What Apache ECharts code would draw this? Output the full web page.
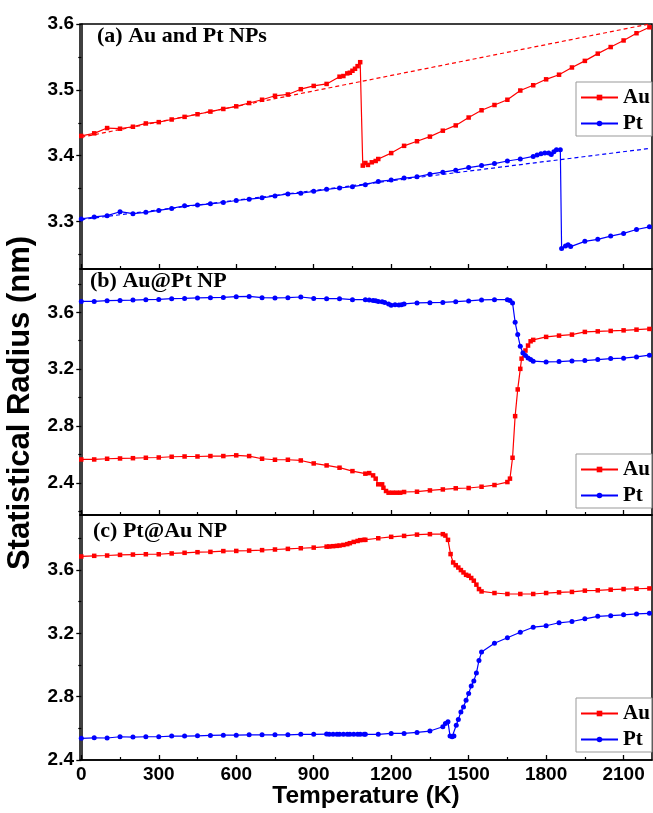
<!DOCTYPE html>
<html>
<head>
<meta charset="utf-8">
<script src="https://cdn.jsdelivr.net/npm/echarts@6.0.0/dist/echarts.min.js"></script>
<style>
html,body{margin:0;padding:0;background:#fff;}
#main{width:653px;height:813px;}
</style>
</head>
<body>
<div id="main"></div>
<script>
// tick values
var xMajor = [0, 300, 600, 900, 1200, 1500, 1800, 2100];
var xMinor = [150, 450, 750, 1050, 1350, 1650, 1950];
var yMajorA = [3.3, 3.4, 3.5, 3.6];
var yMinorA = [3.25, 3.35, 3.45, 3.55];
var yMajorBC = [2.4, 2.8, 3.2, 3.6];
var yMinorB = [2.2, 2.6, 3.0, 3.4, 3.8];
var yMinorC = [2.6, 3.0, 3.4, 3.8];

// (a) Au and Pt NPs
var aAuT = [0,50,100,150,200,250,300,350,400,450,500,550,600,650,700,750,800,850,900,950,
  1000,1015,1030,1040,1050,1060,1070,1080,
  1090,1100,1110,1125,1140,1150,
  1200,1250,1300,1350,1400,1450,1500,1550,1600,1650,1700,1750,1800,1850,1900,1950,2000,2050,2100,2150,2200];
var aAuR = [3.430,3.434,3.442,3.441,3.444,3.449,3.451,3.455,3.459,3.463,3.467,3.471,3.475,3.480,3.485,3.491,3.493,3.501,3.506,3.509,
  3.520,3.521,3.525,3.526,3.529,3.532,3.536,3.542,
  3.385,3.389,3.386,3.390,3.392,3.395,
  3.404,3.415,3.422,3.429,3.438,3.446,3.458,3.469,3.477,3.485,3.499,3.507,3.516,3.523,3.534,3.544,3.555,3.565,3.575,3.586,3.595];
var aPtT = [0,50,100,150,200,250,300,350,400,450,500,550,600,650,700,750,800,850,900,950,
  1000,1050,1100,1150,1200,1250,1300,1350,1400,1450,1500,1550,1600,1650,1700,1750,
  1765,1780,1795,1810,1820,1830,1840,1855,
  1860,1875,1885,1895,
  1950,2000,2050,2100,2150,2200];
var aPtR = [3.304,3.307,3.309,3.315,3.312,3.314,3.317,3.320,3.324,3.325,3.327,3.329,3.332,3.334,3.336,3.339,3.342,3.343,3.346,3.349,
  3.351,3.353,3.356,3.361,3.363,3.366,3.368,3.372,3.375,3.378,3.382,3.385,3.388,3.392,3.395,3.399,
  3.401,3.403,3.404,3.404,3.402,3.406,3.409,3.409,
  3.259,3.263,3.265,3.262,
  3.270,3.273,3.278,3.282,3.288,3.292];
var fitT = [0, 2200];
var fitAu = [3.428, 3.600];
var fitPt = [3.303, 3.411];

// (b) Au@Pt NP
var bAuT = [0,50,100,150,200,250,300,350,400,450,500,550,600,650,700,750,800,850,900,950,
  1000,1050,1100,1115,1130,1140,1150,1165,1170,1180,1190,1205,1220,1235,
  1250,1300,1350,1400,1450,1500,1550,1600,
  1650,1660,1670,1680,1690,1700,1705,1720,1730,1740,1750,
  1800,1850,1900,1950,2000,2050,2100,2150,2200];
var bAuR = [2.564,2.564,2.569,2.571,2.573,2.576,2.578,2.583,2.585,2.585,2.588,2.588,2.593,2.588,2.569,2.562,2.562,2.557,2.536,2.522,
  2.506,2.482,2.464,2.468,2.452,2.429,2.389,2.389,2.365,2.342,2.330,2.330,2.330,2.330,
  2.335,2.337,2.346,2.353,2.361,2.363,2.372,2.384,
  2.405,2.429,2.576,2.869,3.057,3.202,3.274,3.331,3.366,3.396,3.406,
  3.427,3.436,3.443,3.462,3.466,3.469,3.473,3.478,3.483];
var bPtT = [0,50,100,150,200,250,300,350,400,450,500,550,600,650,700,750,800,850,900,950,
  1000,1050,1100,1115,1130,1140,1150,1165,1175,1190,1200,1215,1230,1240,
  1250,1300,1350,1400,1450,1500,1550,1600,
  1650,1660,1670,1680,1690,1700,1710,1720,1730,1740,1750,
  1800,1850,1900,1950,2000,2050,2100,2150,2200];
var bPtR = [3.677,3.677,3.682,3.684,3.686,3.689,3.691,3.696,3.698,3.701,3.703,3.705,3.710,3.712,3.703,3.701,3.703,3.708,3.698,3.696,
  3.696,3.689,3.689,3.686,3.684,3.682,3.677,3.675,3.670,3.659,3.649,3.654,3.652,3.654,
  3.659,3.666,3.668,3.670,3.675,3.680,3.687,3.689,
  3.689,3.684,3.666,3.530,3.443,3.361,3.314,3.296,3.279,3.267,3.256,
  3.251,3.253,3.258,3.260,3.267,3.274,3.277,3.286,3.298];

// (c) Pt@Au NP
var cAuT = [0,50,100,150,200,250,300,350,400,450,500,550,600,650,700,750,800,850,900,950,
  960,975,990,1000,1015,1030,1040,1055,1070,1080,1095,1100,
  1150,1200,1250,1300,1350,1400,
  1410,1420,1430,1440,1450,1460,1470,1480,1490,1500,1510,1520,1530,1540,1550,
  1600,1650,1700,1750,1800,1850,1900,1950,2000,2050,2100,2150,2200];
var cAuR = [3.686,3.690,3.692,3.696,3.698,3.700,3.700,3.705,3.709,3.713,3.715,3.720,3.721,3.723,3.726,3.730,3.734,3.738,3.742,3.748,
  3.749,3.751,3.753,3.755,3.759,3.764,3.770,3.778,3.784,3.789,3.791,3.791,
  3.801,3.810,3.816,3.824,3.827,3.827,
  3.818,3.791,3.701,3.648,3.631,3.616,3.600,3.585,3.570,3.564,3.550,3.533,3.508,3.480,3.465,
  3.455,3.449,3.449,3.449,3.455,3.459,3.462,3.470,3.472,3.476,3.480,3.482,3.484];
var cPtT = [0,50,100,150,200,250,300,350,400,450,500,550,600,650,700,750,800,850,900,950,
  960,975,990,1000,1015,1030,1040,1055,1070,1080,1095,1100,
  1150,1200,1250,1300,1350,1400,
  1410,1420,1428,1436,1443,1452,1460,1470,1480,1490,1500,1510,1520,1530,1540,1550,
  1600,1650,1700,1750,1800,1850,1900,1950,2000,2050,2100,2150,2200];
var cPtR = [2.537,2.540,2.539,2.547,2.545,2.547,2.547,2.551,2.551,2.553,2.555,2.557,2.557,2.559,2.559,2.559,2.559,2.562,2.562,2.564,
  2.563,2.562,2.562,2.563,2.562,2.562,2.563,2.562,2.562,2.563,2.562,2.562,
  2.562,2.568,2.568,2.574,2.583,2.610,
  2.631,2.641,2.551,2.547,2.551,2.620,2.656,2.704,2.735,2.778,2.820,2.868,2.899,2.949,3.029,3.082,
  3.138,3.172,3.207,3.239,3.248,3.267,3.275,3.292,3.308,3.312,3.317,3.323,3.327];

var RED = '#ff0000', BLUE = '#0000ff';
var pair = function (t, r) {
    var res = [];
    for (var i = 0; i < t.length; i++) {
        res.push([t[i], r[i]]);
    }
    return res;
};

var myChart = echarts.init(document.getElementById('main'));

var gridTops = [24, 269, 515];
var gridH = [245, 246, 245];
var yRange = [[3.228, 3.6], [2.173, 3.905], [2.4, 3.948]];
var yMaj = [yMajorA, yMajorBC, yMajorBC];
var yMin = [yMinorA, yMinorB, yMinorC];
var legendTops = [82, 454, 698];

var tickFont = {fontFamily: 'Liberation Sans', fontWeight: 'bold', fontSize: 19, color: '#000'};
var serifBold = 'bold 22px "Liberation Serif"';

var grid = [], xAxis = [], yAxis = [], legend = [];
for (var i = 0; i < 3; i++) {
    grid.push({left: 80, width: 572, top: gridTops[i], height: gridH[i],
        show: true, borderColor: '#000', borderWidth: 1.5});
    // main x axis
    xAxis.push({type: 'value', gridIndex: i, min: -5, max: 2210, position: 'bottom',
        axisLine: {lineStyle: {color: '#000', width: 1.5}},
        axisTick: {inside: true, length: 5, customValues: xMajor, lineStyle: {color: '#000', width: 1.3}},
        axisLabel: {show: i === 2, customValues: xMajor, margin: 5, textStyle: tickFont,
            formatter: function (v) { return String(v); }},
        splitLine: {show: false}});
    // minor x ticks
    xAxis.push({type: 'value', gridIndex: i, min: -5, max: 2210, position: 'bottom',
        axisLine: {show: false},
        axisTick: {inside: true, length: 3, customValues: xMinor, lineStyle: {color: '#000', width: 1.2}},
        axisLabel: {show: false}, splitLine: {show: false}});
    yAxis.push({type: 'value', gridIndex: i, min: yRange[i][0], max: yRange[i][1], position: 'left',
        axisLine: {show: true, lineStyle: {color: '#000', width: 1.5}},
        axisTick: {show: true, inside: false, length: 5, customValues: yMaj[i], lineStyle: {color: '#000', width: 1.3}},
        axisLabel: {customValues: yMaj[i], margin: 6, textStyle: tickFont,
            formatter: function (v) { return v.toFixed(1); }},
        splitLine: {show: false}});
    yAxis.push({type: 'value', gridIndex: i, min: yRange[i][0], max: yRange[i][1], position: 'left',
        axisLine: {show: false},
        axisTick: {show: true, inside: false, length: 3, customValues: yMin[i], lineStyle: {color: '#000', width: 1.2}},
        axisLabel: {show: false}, splitLine: {show: false}});
    legend.push({left: 576, top: legendTops[i], orient: 'vertical', itemWidth: 37, itemHeight: 7, itemGap: 5,
        padding: [5, 2, 2, 4], borderColor: '#999', borderWidth: 1, backgroundColor: '#fff',
        selectedMode: false,
        textStyle: {fontFamily: 'Liberation Serif', fontWeight: 'bold', fontSize: 21, color: '#000', lineHeight: 20},
        data: ['Au', 'Pt']});
}

var lineSeries = function (name, data, g, color, symbol) {
    return {name: name, type: 'line', xAxisIndex: g * 2, yAxisIndex: g * 2, data: data,
        symbol: symbol, symbolSize: symbol === 'rect' ? 4.5 : 5, showAllSymbol: true,
        itemStyle: {color: color}, lineStyle: {color: color, width: 1.2}, z: 3};
};
var fitSeries = function (data, color) {
    return {name: 'fit', type: 'line', xAxisIndex: 0, yAxisIndex: 0, data: data, symbol: 'none',
        lineStyle: {color: color, width: 1.2, type: [4, 3]}, z: 2};
};

option = {
    backgroundColor: '#fff',
    animation: false,
    grid: grid,
    xAxis: xAxis,
    yAxis: yAxis,
    legend: legend,
    series: [
        fitSeries(pair(fitT, fitAu), RED),
        fitSeries(pair(fitT, fitPt), BLUE),
        lineSeries('Au', pair(aAuT, aAuR), 0, RED, 'rect'),
        lineSeries('Pt', pair(aPtT, aPtR), 0, BLUE, 'circle'),
        lineSeries('Au', pair(bAuT, bAuR), 1, RED, 'rect'),
        lineSeries('Pt', pair(bPtT, bPtR), 1, BLUE, 'circle'),
        lineSeries('Au', pair(cAuT, cAuR), 2, RED, 'rect'),
        lineSeries('Pt', pair(cPtT, cPtR), 2, BLUE, 'circle')
    ],
    graphic: [
        {type: 'text', x: 97, y: 47, style: {text: '(a) Au and Pt NPs', font: serifBold, fill: '#000', textVerticalAlign: 'bottom'}},
        {type: 'text', x: 90, y: 292, style: {text: '(b) Au@Pt NP', font: serifBold, fill: '#000', textVerticalAlign: 'bottom'}},
        {type: 'text', x: 93, y: 542, style: {text: '(c) Pt@Au NP', font: serifBold, fill: '#000', textVerticalAlign: 'bottom'}},
        {type: 'text', x: 366, y: 796, style: {text: 'Temperature (K)', font: 'bold 24.5px "Liberation Sans"', fill: '#000',
            textAlign: 'center', textVerticalAlign: 'middle'}},
        {type: 'text', x: 20, y: 403, rotation: Math.PI / 2, style: {text: 'Statistical Radius (nm)', font: 'bold 31px "Liberation Sans"', fill: '#000',
            textAlign: 'center', textVerticalAlign: 'middle'}}
    ]
};
myChart.setOption(option);
</script>
</body>
</html>
